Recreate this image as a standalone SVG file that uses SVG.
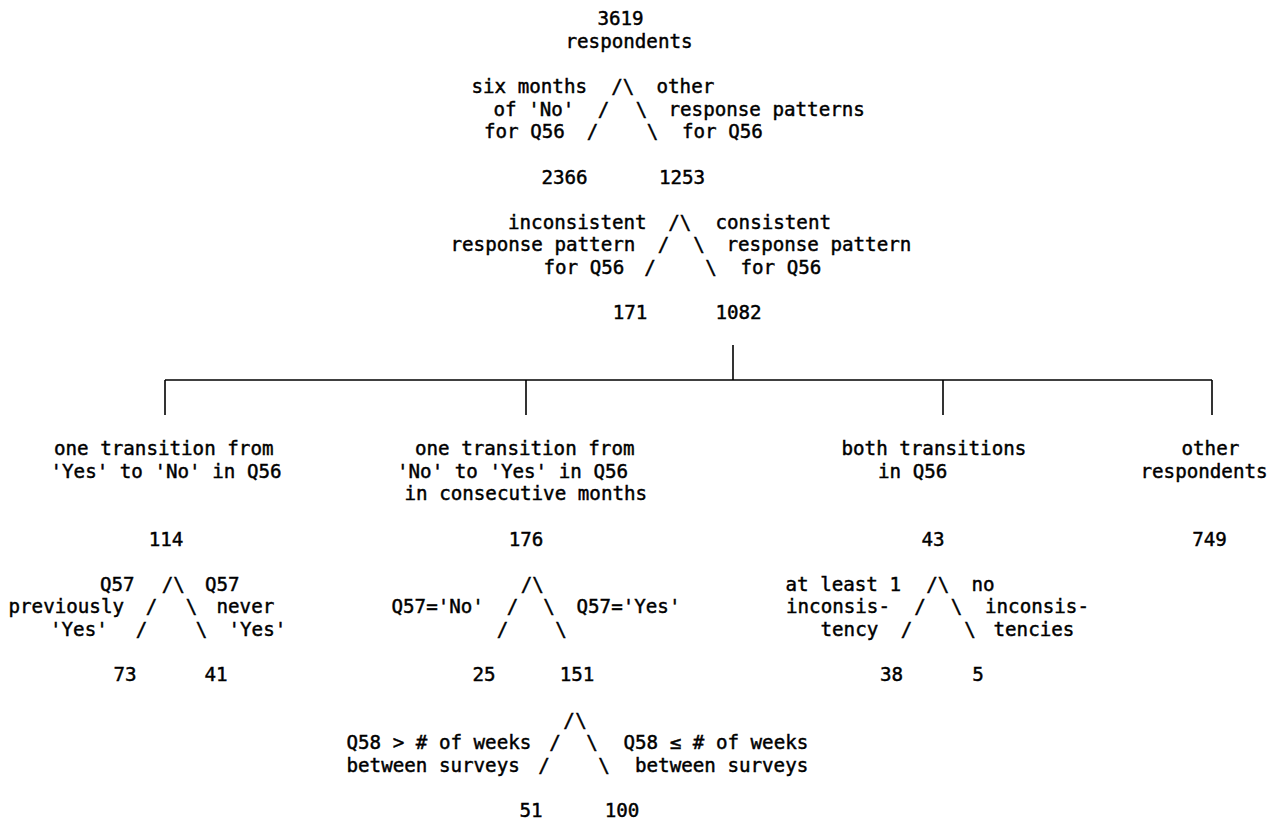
<svg xmlns="http://www.w3.org/2000/svg" width="1284" height="821" viewBox="0 0 1284 821">
<style>
text{font-family:"DejaVu Sans Mono","Liberation Mono",monospace;font-size:19.2px;fill:#000;stroke:#000;stroke-width:0.45px}
.m{text-anchor:middle}
.ln{stroke:#000;stroke-width:1.6;fill:none}
</style>
<rect width="1284" height="821" fill="#fff"/>
<g id="connectors">
<g id="slashes">
<text class="m" x="617" y="93">/</text><text class="m" x="628.5" y="93">\</text>
<text class="m" x="603.5" y="115.6">/</text><text class="m" x="641.5" y="115.6">\</text>
<text class="m" x="592.5" y="138.2">/</text><text class="m" x="652.5" y="138.2">\</text>
<text class="m" x="674" y="228.7">/</text><text class="m" x="685.6" y="228.7">\</text>
<text class="m" x="663.5" y="251.4">/</text><text class="m" x="699" y="251.4">\</text>
<text class="m" x="650" y="274">/</text><text class="m" x="711" y="274">\</text>
<text class="m" x="167.5" y="590.7">/</text><text class="m" x="179" y="590.7">\</text>
<text class="m" x="151.5" y="613.3">/</text><text class="m" x="191.5" y="613.3">\</text>
<text class="m" x="141.5" y="636">/</text><text class="m" x="201.5" y="636">\</text>
<text class="m" x="526.5" y="590.7">/</text><text class="m" x="538" y="590.7">\</text>
<text class="m" x="512.5" y="613.3">/</text><text class="m" x="549" y="613.3">\</text>
<text class="m" x="502.5" y="636">/</text><text class="m" x="561" y="636">\</text>
<text class="m" x="932" y="590.7">/</text><text class="m" x="943.5" y="590.7">\</text>
<text class="m" x="920" y="613.3">/</text><text class="m" x="956.5" y="613.3">\</text>
<text class="m" x="906.5" y="636">/</text><text class="m" x="970" y="636">\</text>
<text class="m" x="569" y="726.5">/</text><text class="m" x="581" y="726.5">\</text>
<text class="m" x="555" y="749.1">/</text><text class="m" x="592" y="749.1">\</text>
<text class="m" x="544" y="771.7">/</text><text class="m" x="604" y="771.7">\</text>
</g>
<g id="bracket">
<line class="ln" x1="733" y1="345" x2="733" y2="380"/>
<line class="ln" x1="165" y1="380" x2="1212" y2="380"/>
<line class="ln" x1="165" y1="380" x2="165" y2="415"/>
<line class="ln" x1="526" y1="380" x2="526" y2="415"/>
<line class="ln" x1="943" y1="380" x2="943" y2="415"/>
<line class="ln" x1="1212" y1="380" x2="1212" y2="415"/>
</g>
</g>
<g id="root">
<text class="m" x="620.5" y="25.1">3619</text>
<text x="565.5" y="47.7">respondents</text>
</g>
<g id="split1-labels">
<text x="471.5" y="93">six months</text>
<text x="493.5" y="115.6">of 'No'</text>
<text x="484" y="138.2">for Q56</text>
<text x="656.5" y="93">other</text>
<text x="668.5" y="115.6">response patterns</text>
<text x="682" y="138.2">for Q56</text>
</g>
<g id="n2366"><text class="m" x="564.5" y="183.5">2366</text></g>
<g id="n1253"><text class="m" x="682" y="183.5">1253</text></g>
<g id="split2-labels">
<text x="508" y="228.7">inconsistent</text>
<text x="450.5" y="251.4">response pattern</text>
<text x="543.5" y="274">for Q56</text>
<text x="715.5" y="228.7">consistent</text>
<text x="726.5" y="251.4">response pattern</text>
<text x="740.5" y="274">for Q56</text>
</g>
<g id="n171"><text class="m" x="630" y="319.2">171</text></g>
<g id="n1082"><text class="m" x="738.5" y="319.2">1082</text></g>
<g id="n114">
<text x="54" y="455">one transition from</text>
<text x="50.5" y="477.6">'Yes' to 'No' in Q56</text>
<text class="m" x="166" y="545.5">114</text>
</g>
<g id="split114-labels">
<text x="100" y="590.7">Q57</text>
<text x="8.5" y="613.3">previously</text>
<text x="50" y="636">'Yes'</text>
<text x="205" y="590.7">Q57</text>
<text x="216.5" y="613.3">never</text>
<text x="228.5" y="636">'Yes'</text>
</g>
<g id="n73"><text class="m" x="125" y="681.2">73</text></g>
<g id="n41"><text class="m" x="216" y="681.2">41</text></g>
<g id="n176">
<text x="415" y="455">one transition from</text>
<text x="397" y="477.6">'No' to 'Yes' in Q56</text>
<text x="404.5" y="500.2">in consecutive months</text>
<text class="m" x="526" y="545.5">176</text>
</g>
<g id="split176-labels">
<text x="391.5" y="613.3">Q57='No'</text>
<text x="576.5" y="613.3">Q57='Yes'</text>
</g>
<g id="n25"><text class="m" x="484" y="681.2">25</text></g>
<g id="n151"><text class="m" x="577" y="681.2">151</text></g>
<g id="split151-labels">
<text x="346.5" y="749.1">Q58 &gt; # of weeks</text>
<text x="346.5" y="771.7">between surveys</text>
<text x="623.5" y="749.1">Q58 ≤ # of weeks</text>
<text x="635" y="771.7">between surveys</text>
</g>
<g id="n51"><text class="m" x="531" y="817">51</text></g>
<g id="n100"><text class="m" x="622" y="817">100</text></g>
<g id="n43">
<text x="841.5" y="455">both transitions</text>
<text x="878" y="477.6">in Q56</text>
<text class="m" x="933" y="545.5">43</text>
</g>
<g id="split43-labels">
<text x="785.5" y="590.7">at least 1</text>
<text x="786" y="613.3">inconsis-</text>
<text x="820.5" y="636">tency</text>
<text x="971.5" y="590.7">no</text>
<text x="985" y="613.3">inconsis-</text>
<text x="993.5" y="636">tencies</text>
</g>
<g id="n38"><text class="m" x="891.5" y="681.2">38</text></g>
<g id="n5"><text class="m" x="978" y="681.2">5</text></g>
<g id="n749">
<text x="1181.5" y="455">other</text>
<text x="1140.5" y="477.6">respondents</text>
<text class="m" x="1209.5" y="545.5">749</text>
</g>
</svg>
